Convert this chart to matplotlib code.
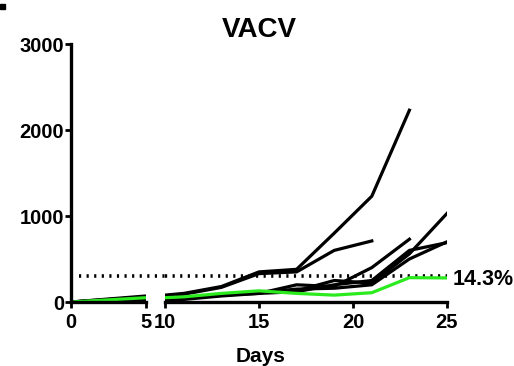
import numpy as np
import matplotlib.pyplot as plt

plt.rcParams.update({
    "font.family": ["Liberation Sans", "DejaVu Sans"],
    "font.weight": "bold",
    "font.size": 14.5,
})

# days, split in two segments (broken x axis)
days_early = [0, 5]
days_late = [10, 11, 13, 15, 17, 19, 21, 23, 25]

nan = np.nan
# tumour volume per mouse (black = progressing, green = controlled)
early_black = [
    [0, 70], [0, 60], [0, 40], [0, 50], [0, 30], [0, 45],
]
late_black = [
    [80, 100, 180, 350, 380, 800, 1230, 2230, nan],
    [70, 90, 170, 330, 350, 600, 710, nan, nan],
    [20, 40, 80, 100, 200, 180, 400, 730, nan],
    [30, 50, 90, 120, 130, 250, 220, 560, 1030],
    [10, 30, 70, 100, 120, 200, 250, 600, 690],
    [40, 50, 80, 110, 150, 160, 200, 500, 700],
]
early_green = [0, 50]
late_green = [50, 60, 100, 130, 100, 80, 108, 283, 280]

threshold = 300
threshold_label = "14.3%"

GREEN = "#2BEA1E"
LW = 2.3

fig = plt.figure(figsize=(5.14, 3.66), dpi=100)
bottom, height = 64 / 366, 258 / 366
ax1 = fig.add_axes([71 / 514, bottom, 75 / 514, height])
ax2 = fig.add_axes([165 / 514, bottom, 282 / 514, height])

for vals in early_black:
    ax1.plot(days_early, vals, color="black", lw=LW, solid_capstyle="butt")
ax1.plot(days_early, early_green, color=GREEN, lw=LW, solid_capstyle="butt")

for vals in late_black:
    ax2.plot(days_late, vals, color="black", lw=LW)
ax2.plot(days_late, late_green, color=GREEN, lw=LW)

# threshold dotted line, crossing the axis break
dots = (0, (0.6, 1.5))
ax1.plot([0.55, 6.3], [threshold, threshold], color="black", lw=2.6,
         linestyle=dots, clip_on=False, zorder=1)
ax2.plot([10, 25], [threshold, threshold], color="black", lw=2.6,
         linestyle=dots, zorder=1)
ax2.text(25.3, threshold - 35, threshold_label, fontsize=15.5, fontweight="bold",
         va="center", ha="left")

for ax in (ax1, ax2):
    ax.set_ylim(0, 3000)
    ax.spines["top"].set_visible(False)
    ax.spines["right"].set_visible(False)
    ax.spines["bottom"].set_linewidth(2.4)
    ax.spines["left"].set_linewidth(2.4)
    ax.tick_params(width=2.0, length=4, labelsize=14.5, pad=1)
    ax.tick_params(axis="x", pad=4)
    ax.patch.set_visible(False)

ax1.set_xlim(0, 5)
ax1.set_xticks([0, 5])
ax1.set_yticks([0, 1000, 2000, 3000])
for lab in ax1.get_yticklabels() + ax1.get_xticklabels():
    lab.set_fontweight("bold")

ax2.set_xlim(10, 25)
ax2.set_xticks([10, 15, 20, 25])
ax2.spines["left"].set_visible(False)
ax2.tick_params(axis="y", left=False, labelleft=False)
for lab in ax2.get_xticklabels():
    lab.set_fontweight("bold")

fig.text(259 / 514, 1 - 30 / 366, "VACV", fontsize=20, fontweight="bold",
         ha="center", va="center")
fig.text(261 / 514, 1 - 357 / 366, "Days", fontsize=15, fontweight="bold",
         ha="center", va="center")
# stray panel mark in the top-left corner
fig.patches.append(plt.Rectangle((0, 1 - 9 / 366), 5 / 514, 5 / 366,
                                 transform=fig.transFigure, color="black"))

fig.savefig("out.png", dpi=100)
